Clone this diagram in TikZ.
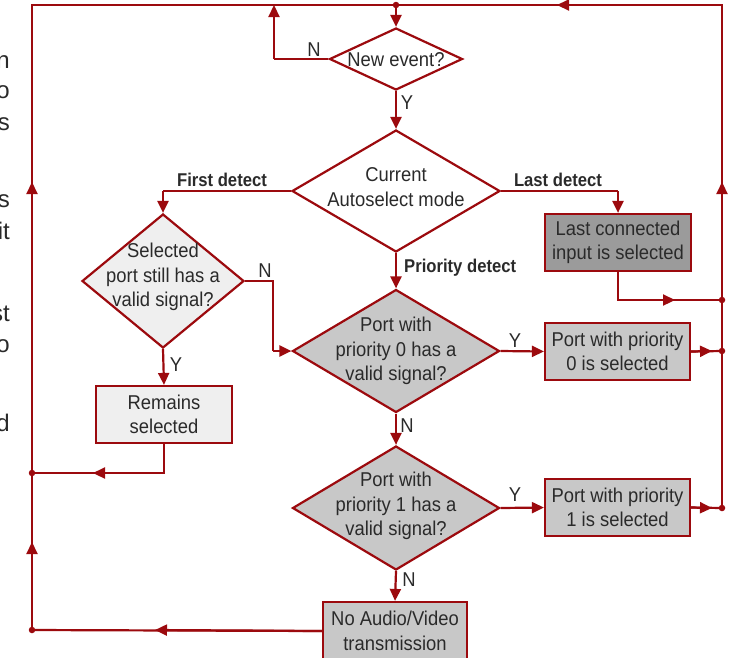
\documentclass[tikz,border=0pt]{standalone}
\usepackage{fontspec}
\setmainfont{Liberation Sans}
\newfontfamily\condfont[FakeStretch=0.92]{Liberation Sans}
\newfontfamily\boldcond[FakeStretch=0.9]{Liberation Sans}
\usetikzlibrary{arrows.meta,shapes.geometric}
\definecolor{lred}{HTML}{9C0A0E}
\definecolor{tcol}{HTML}{2A2A2A}
\definecolor{fillA}{HTML}{EFEFEF}
\definecolor{fillB}{HTML}{C8C8C8}
\definecolor{fillC}{HTML}{9B9B9B}
\tikzset{
  flow/.style={draw=lred, line width=2.2pt},
  arr/.style={flow, -{Triangle[length=12pt,width=11pt]}},
  dia/.style={diamond, draw=lred, line width=2.2pt, inner sep=0pt},
  boxnode/.style={rectangle, draw=lred, line width=2.2pt, inner sep=0pt, align=center,
    font=\condfont\fontsize{20}{24.5}\selectfont, text=tcol},
  txt/.style={font=\condfont\fontsize{20}{24.5}\selectfont, text=tcol, align=center, inner sep=0pt},
  lbl/.style={font=\condfont\fontsize{20}{24}\selectfont, text=tcol, inner sep=0pt},
  blbl/.style={font=\boldcond\bfseries\fontsize{18.5}{24}\selectfont, text=tcol, inner sep=0pt},
  frag/.style={font=\fontsize{24}{28}\selectfont, text=tcol, inner sep=0pt, anchor=base east},
  jdot/.style={circle, fill=lred, inner sep=0pt, minimum size=6.5pt}
}
\begin{document}
\begin{tikzpicture}[x=1pt,y=-1pt]
\useasboundingbox (0,0) rectangle (738,657);
% cut-off text at left edge
\node[frag] (f1) at (10,68) {n};
\node[frag] (f2) at (10,98) {o};
\node[frag] (f3) at (10,130) {s};
\node[frag] (f4) at (10,207) {s};
\node[frag] (f5) at (10,239) {it};
\node[frag] (f6) at (10,321) {st};
\node[frag] (f7) at (10,352) {o};
\node[frag] (f8) at (10,431) {d};

% shapes
\node[dia, fill=white, minimum width=133pt, minimum height=62pt] (ne) at (396,59) {};
\node[txt] (net) at (396,60) {New event?};
\node[dia, fill=white, minimum width=208pt, minimum height=122pt] (cur) at (396,191) {};
\node[txt] (curt) at (396,187) {Current\\Autoselect mode};
\node[dia, fill=fillA, minimum width=162pt, minimum height=134pt] (sel) at (163,281) {};
\node[txt] (selt) at (163,277) {Selected\\port still has a\\valid signal?};
\node[dia, fill=fillB, minimum width=207pt, minimum height=123pt] (d0) at (396,351) {};
\node[txt] (d0t) at (396,351) {Port with\\priority 0 has a\\valid signal?};
\node[dia, fill=fillB, minimum width=207pt, minimum height=124pt] (d1) at (396,508) {};
\node[txt] (d1t) at (396,506) {Port with\\priority 1 has a\\valid signal?};

\node[boxnode, fill=fillC, minimum width=146pt, minimum height=57pt] (lc) at (618,242.5) {Last connected\\input is selected};
\node[boxnode, fill=fillB, minimum width=145pt, minimum height=57pt] (p0) at (617.5,351.5) {Port with priority\\0 is selected};
\node[boxnode, fill=fillB, minimum width=145pt, minimum height=57pt] (p1) at (617.5,507.5) {Port with priority\\1 is selected};
\node[boxnode, fill=fillA, minimum width=136pt, minimum height=57pt] (rem) at (164,414.5) {Remains\\selected};
\node[boxnode, fill=fillB, minimum width=144pt, minimum height=58pt] (no) at (395,631) {No Audio/Video\\transmission};

% frame coordinates
\coordinate (TL) at (32,5);
\coordinate (TR) at (722,5);
\coordinate (TM) at (396,5);
\coordinate (BL) at (32,630);
\coordinate (RL) at (32,473);
\coordinate (R0) at (722,300);
\coordinate (R1) at (722,351);
\coordinate (R2) at (722,508);
\coordinate (nN) at (274,5);
\coordinate (nNc) at (274,59);

% outer loop
\draw[flow] (BL) -- (TL) -- (TR) -- (R2);
\draw[arr] (32,560) -- (32,542);
\draw[arr] (32,200) -- (32,182);
\draw[arr] (722,200) -- (722,182);
\draw[arr] (575,5) -- (557,5);

% top
\draw[arr] (TM) -- (ne.north);
\draw[flow] (ne.west) -- (nNc);
\draw[arr] (nNc) -- (nN);
\node[lbl] (lN1) at (314,50) {N};
\draw[arr] (ne.south) -- (cur.north);
\node[lbl] (lY1) at (407,103) {Y};

% branches of current
\coordinate (fd) at (163,191);
\draw[flow] (cur.west) -- (fd);
\draw[arr] (fd) -- (sel.north);
\node[blbl] (lfd) at (222,180) {First detect};
\coordinate (ld) at (618,191);
\draw[flow] (cur.east) -- (ld);
\draw[arr] (ld) -- (lc.north);
\node[blbl] (lld) at (558,180) {Last detect};
\draw[arr] (cur.south) -- (d0.north);
\node[blbl, anchor=west] (lpd) at (404,268) {Priority detect};

% selected
\coordinate (sN1) at (273,281);
\coordinate (sN2) at (273,351);
\draw[flow] (sel.east) -- (sN1) -- (sN2);
\draw[arr] (sN2) -- (d0.west);
\node[lbl] (lN2) at (265,271) {N};
\draw[arr] (sel.south) -- (rem.north);
\node[lbl] (lY2) at (176,365) {Y};
\coordinate (rm1) at (164,473);
\draw[flow] (rem.south) -- (rm1) -- (RL);
\draw[arr] (110,473) -- (93,473);

% priority 0
\draw[arr] (d0.east) -- (p0.west);
\node[lbl] (lY3) at (515,341) {Y};
\draw[flow] (p0.east) -- (R1);
\draw[arr] (p0.east) -- (712,351);
\draw[arr] (d0.south) -- (d1.north);
\node[lbl] (lN3) at (407,426) {N};

% priority 1
\draw[arr] (d1.east) -- (p1.west);
\node[lbl] (lY4) at (515,495) {Y};
\draw[flow] (p1.east) -- (R2);
\draw[arr] (p1.east) -- (712,508);
\draw[arr] (d1.south) -- (no.north);
\node[lbl] (lN4) at (409,580) {N};

% last connected
\coordinate (lc1) at (618,300);
\draw[flow] (lc.south) -- (lc1) -- (R0);
\draw[arr] (lc1) -- (675,300);

% no audio
\draw[flow] (no.west) -- (BL);
\draw[arr] (no.west) -- (155,630);

% junction dots
\node[jdot] (j1) at (TM) {};
\node[jdot] (j2) at (R0) {};
\node[jdot] (j3) at (R1) {};
\node[jdot] (j4) at (R2) {};
\node[jdot] (j5) at (RL) {};
\node[jdot] (j6) at (BL) {};
\end{tikzpicture}
\end{document}
